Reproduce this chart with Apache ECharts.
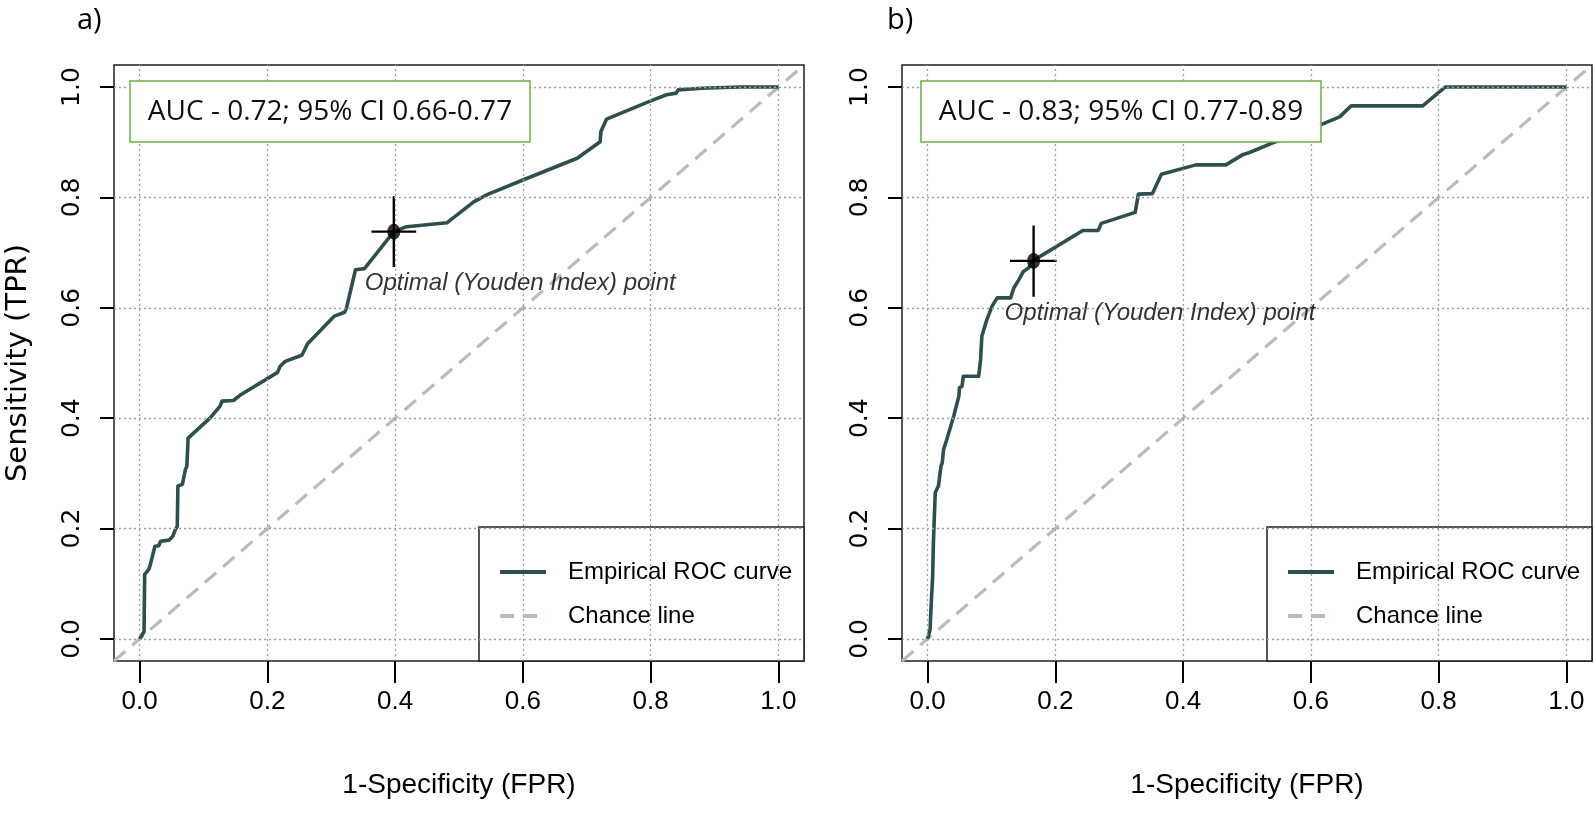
<!DOCTYPE html>
<html>
<head>
<meta charset="utf-8">
<script src="https://cdn.jsdelivr.net/npm/echarts@6/dist/echarts.min.js"></script>
<style>
  html, body { margin: 0; padding: 0; background: #ffffff; }
  #chart { width: 1594px; height: 816px; }
</style>
</head>
<body>
<div id="chart"></div>
<script>
// ---------- data ----------
const TICK_VALUES = [0, 0.2, 0.4, 0.6, 0.8, 1.0];
const TICK_MIN = 0, TICK_MAX = 1, TICK_STEP = 0.2;
const PANEL_LABELS = ['a)', 'b)'];
const AUC_TEXT = ['AUC - 0.72; 95% CI 0.66-0.77', 'AUC - 0.83; 95% CI 0.77-0.89'];
const SERIES_NAMES = ['Empirical ROC curve', 'Chance line'];
const X_TITLE = '1-Specificity (FPR)';
const Y_TITLE = 'Sensitivity (TPR)';
const POINT_LABEL = 'Optimal (Youden Index) point';

// chance line (abline across the full plot region)
const CHANCE_FPR = [-0.04, 1.04];
const CHANCE_TPR = [-0.04, 1.04];

// panel a) empirical ROC
const ROC_A_FPR = [0, 0.007, 0.008, 0.0145, 0.017, 0.024, 0.030, 0.033, 0.046, 0.052,
  0.056, 0.059, 0.060, 0.067, 0.072, 0.074, 0.076, 0.111, 0.126, 0.129,
  0.147, 0.159, 0.202, 0.216, 0.220, 0.228, 0.254, 0.263, 0.305, 0.321,
  0.324, 0.338, 0.352, 0.398, 0.418, 0.481, 0.523, 0.544, 0.601, 0.685,
  0.721, 0.722, 0.731, 0.802, 0.825, 0.840, 0.843, 0.880, 0.940, 1.0];
const ROC_A_TPR = [0, 0.013, 0.117, 0.126, 0.135, 0.168, 0.169, 0.177, 0.179, 0.186,
  0.198, 0.204, 0.277, 0.280, 0.308, 0.313, 0.364, 0.401, 0.422, 0.431,
  0.432, 0.443, 0.473, 0.483, 0.494, 0.503, 0.514, 0.535, 0.585, 0.592,
  0.600, 0.669, 0.671, 0.738, 0.747, 0.754, 0.792, 0.805, 0.832, 0.871,
  0.901, 0.919, 0.942, 0.976, 0.986, 0.989, 0.995, 0.998, 1.0, 1.0];

// panel b) empirical ROC
const ROC_B_FPR = [0, 0.004, 0.005, 0.008, 0.009, 0.010, 0.012, 0.017, 0.021, 0.023,
  0.025, 0.030, 0.041, 0.049, 0.050, 0.054, 0.056, 0.080, 0.083, 0.085,
  0.093, 0.101, 0.109, 0.130, 0.135, 0.143, 0.150, 0.158, 0.166, 0.243,
  0.267, 0.272, 0.325, 0.330, 0.352, 0.366, 0.420, 0.467, 0.494, 0.503,
  0.545, 0.580, 0.612, 0.645, 0.663, 0.775, 0.810, 1.0];
const ROC_B_TPR = [0, 0.017, 0.047, 0.114, 0.168, 0.201, 0.265, 0.277, 0.313, 0.319,
  0.343, 0.361, 0.404, 0.440, 0.455, 0.458, 0.476, 0.476, 0.506, 0.549,
  0.579, 0.603, 0.618, 0.618, 0.636, 0.651, 0.666, 0.672, 0.686, 0.740,
  0.740, 0.753, 0.773, 0.806, 0.807, 0.842, 0.859, 0.859, 0.878, 0.881,
  0.901, 0.915, 0.930, 0.946, 0.966, 0.966, 1.0, 1.0];

// optimal (Youden) points with their confidence ranges
const OPT_FPR = [0.398, 0.166];
const OPT_TPR = [0.738, 0.685];
const OPT_FPR_LO = [0.363, 0.129];
const OPT_FPR_HI = [0.433, 0.202];
const OPT_TPR_LO = [0.674, 0.620];
const OPT_TPR_HI = [0.802, 0.749];

// ---------- styling / layout ----------
const SANS = "'Liberation Sans', Arial, sans-serif";
const WIDE = "'DejaVu Sans', Verdana, sans-serif";
const BOXFONT = "'Open Sans', 'Noto Sans', sans-serif";
const CURVE_COLOR = '#2F4F4F';
const CHANCE_COLOR = '#BBBBBB';
const FRAME = '#1e1e1e';
const AX_MIN = -0.04, AX_MAX = 1.04;          // R-style 4% axis extension
const GRID_LEFT = [114, 902];
const GRID_TOP = 65, GRID_W = 690, GRID_H = 596;
const X_TICK_PX = 22, Y_TICK_PX = 14;
// inner rectangle spanning exactly the 0..1 range (used for the tick axes)
const SPAN = AX_MAX - AX_MIN;
const IN_DX = (TICK_MIN - AX_MIN) / SPAN * GRID_W;
const IN_DY = (AX_MAX - TICK_MAX) / SPAN * GRID_H;
const IN_W = (TICK_MAX - TICK_MIN) / SPAN * GRID_W;
const IN_H = (TICK_MAX - TICK_MIN) / SPAN * GRID_H;
// tick lengths expressed in axis units of the data grid
const X_TICK_LEN = X_TICK_PX / GRID_H * SPAN;
const Y_TICK_LEN = Y_TICK_PX / GRID_W * SPAN;

const rocFpr = [ROC_A_FPR, ROC_B_FPR];
const rocTpr = [ROC_A_TPR, ROC_B_TPR];
const zip = (a, b) => a.map((v, i) => [v, b[i]]);
const fmt = v => Number(v).toFixed(1);

const grids = [], xAxes = [], yAxes = [], series = [], legends = [], titles = [], graphics = [];

for (let p = 0; p < 2; p++) {
  const gl = GRID_LEFT[p];
  const gData = 2 * p, gTick = 2 * p + 1;

  // data grid (full plot region, framed)
  grids.push({ left: gl, top: GRID_TOP, width: GRID_W, height: GRID_H,
    show: true, borderColor: FRAME, borderWidth: 1.5 });
  // label grid (0..1 region), axes pushed out to the frame with offset
  grids.push({ left: gl + IN_DX, top: GRID_TOP + IN_DY, width: IN_W, height: IN_H, show: false });

  xAxes.push({
    type: 'value', gridIndex: gData, min: AX_MIN, max: AX_MAX,
    axisLine: { show: false }, axisTick: { show: false }, axisLabel: { show: false }, splitLine: { show: false }
  });
  yAxes.push({
    type: 'value', gridIndex: gData, min: AX_MIN, max: AX_MAX,
    axisLine: { show: false }, axisTick: { show: false }, axisLabel: { show: false }, splitLine: { show: false }
  });

  xAxes.push({
    type: 'value', gridIndex: gTick, min: TICK_MIN, max: TICK_MAX, interval: TICK_STEP,
    offset: IN_DY,
    name: X_TITLE, nameLocation: 'middle', nameGap: 110,
    nameTextStyle: { fontFamily: SANS, fontSize: 28, color: '#000' },
    axisLine: { show: false, onZero: false },
    axisTick: { show: true, length: X_TICK_PX, lineStyle: { color: '#000', width: 2 } },
    axisLabel: { show: true, margin: 28, fontFamily: SANS, fontSize: 26, color: '#000', formatter: fmt },
    splitLine: { show: false }
  });
  yAxes.push({
    type: 'value', gridIndex: gTick, min: TICK_MIN, max: TICK_MAX, interval: TICK_STEP,
    offset: IN_DX,
    name: p === 0 ? Y_TITLE : '', nameLocation: 'middle', nameGap: 81, nameRotate: 90,
    nameTextStyle: { fontFamily: WIDE, fontSize: 29, color: '#000' },
    axisLine: { show: false, onZero: false },
    axisTick: { show: true, length: Y_TICK_PX, lineStyle: { color: '#000', width: 2 } },
    axisLabel: { show: true, rotate: 90, margin: 29, fontFamily: WIDE, fontSize: 25, color: '#000', formatter: fmt },
    splitLine: { show: false }
  });

  // keep the label grid populated (invisible)
  series.push({ type: 'line', name: 'lbl' + p, xAxisIndex: gTick, yAxisIndex: gTick, silent: true,
    data: [[TICK_MIN, TICK_MIN], [TICK_MAX, TICK_MAX]], symbol: 'none', lineStyle: { opacity: 0 }, z: 0 });

  const ax = { xAxisIndex: gData, yAxisIndex: gData };

  // dotted reference grid drawn through the axes
  series.push(Object.assign({
    type: 'line', name: 'grid' + p, data: [], silent: true, z: 1,
    markLine: {
      silent: true, symbol: ['none', 'none'], animation: false,
      label: { show: false },
      lineStyle: { color: '#a0a0a0', type: [2, 3], width: 1.3 },
      emphasis: { disabled: true },
      data: TICK_VALUES.map(v => ({ xAxis: v })).concat(TICK_VALUES.map(v => ({ yAxis: v })))
    }
  }, ax));

  // outward tick marks below / left of the frame (drawn through the data scales)
  series.push(Object.assign({
    type: 'line', name: 'ticks' + p, data: [], silent: true, z: 1, clip: false,
    markLine: {
      silent: true, symbol: ['none', 'none'], animation: false,
      label: { show: false },
      lineStyle: { color: '#000', type: 'solid', width: 2 },
      emphasis: { disabled: true },
      data: TICK_VALUES.map(v => [{ coord: [v, AX_MIN] }, { coord: [v, AX_MIN - X_TICK_LEN] }])
        .concat(TICK_VALUES.map(v => [{ coord: [AX_MIN, v] }, { coord: [AX_MIN - Y_TICK_LEN, v] }]))
    }
  }, ax));

  series.push(Object.assign({
    type: 'line', name: SERIES_NAMES[1], z: 2,
    data: zip(CHANCE_FPR, CHANCE_TPR), symbol: 'none', silent: true,
    itemStyle: { color: CHANCE_COLOR },
    lineStyle: { color: CHANCE_COLOR, width: 3.2, type: [15, 9] }
  }, ax));

  series.push(Object.assign({
    type: 'line', name: SERIES_NAMES[0], z: 3,
    data: zip(rocFpr[p], rocTpr[p]), symbol: 'none', silent: true,
    itemStyle: { color: CURVE_COLOR },
    lineStyle: { color: CURVE_COLOR, width: 3.6, join: 'round' }
  }, ax));

  series.push(Object.assign({
    type: 'line', name: 'ci-h' + p, z: 4, silent: true,
    data: [[OPT_FPR_LO[p], OPT_TPR[p]], [OPT_FPR_HI[p], OPT_TPR[p]]], symbol: 'none',
    lineStyle: { color: '#000', width: 2.4 }
  }, ax));
  series.push(Object.assign({
    type: 'line', name: 'ci-v' + p, z: 4, silent: true,
    data: [[OPT_FPR[p], OPT_TPR_LO[p]], [OPT_FPR[p], OPT_TPR_HI[p]]], symbol: 'none',
    lineStyle: { color: '#000', width: 2.4 }
  }, ax));

  series.push(Object.assign({
    type: 'scatter', name: 'opt' + p, z: 5, silent: true,
    data: [[OPT_FPR[p], OPT_TPR[p]]], symbol: 'circle', symbolSize: [13, 16],
    itemStyle: { color: '#000' },
    label: { show: true, formatter: POINT_LABEL, position: 'inside', align: 'left', verticalAlign: 'middle',
      offset: [-29, 52], fontFamily: SANS, fontStyle: 'italic', fontSize: 24, color: '#000' }
  }, ax));

  legends.push({
    data: [
      { name: SERIES_NAMES[0], icon: 'path://M0,0H46V4H0Z', itemStyle: { color: CURVE_COLOR, borderWidth: 0 } },
      { name: SERIES_NAMES[1], icon: 'path://M0,0H14V4H0Z M23,0H37V4H23Z M45.9,0H46V4H45.9Z', itemStyle: { color: CHANCE_COLOR, borderWidth: 0 } }
    ],
    orient: 'vertical', left: gl + 386, top: 550,
    itemWidth: 46, itemHeight: 4, itemGap: 0, padding: 0, selectedMode: false, z: 6,
    textStyle: { fontFamily: SANS, fontSize: 24, color: '#000', lineHeight: 44, padding: [0, 0, 0, 17] }
  });

  titles.push({ text: PANEL_LABELS[p], left: p === 0 ? 77 : 887, top: 6, padding: 0,
    textStyle: { fontFamily: BOXFONT, fontSize: 29, fontWeight: 'normal', color: '#000' } });

  // legend box
  graphics.push({ type: 'rect', z: 4, silent: true,
    shape: { x: gl + 365, y: 527, width: GRID_W - 365, height: GRID_TOP + GRID_H - 527 },
    style: { fill: '#ffffff', stroke: FRAME, lineWidth: 1.5 } });
  // AUC annotation box
  graphics.push({ type: 'rect', z: 10, silent: true,
    shape: { x: gl + 16 + p * 3, y: 81, width: 400, height: 61 },
    style: { fill: '#ffffff', stroke: '#70AD47', lineWidth: 1.5 } });
  graphics.push({ type: 'text', z: 11, silent: true,
    x: gl + 216 + p * 3, y: 112,
    style: { text: AUC_TEXT[p], fontFamily: BOXFONT, fontSize: 28, fill: '#111',
      align: 'center', verticalAlign: 'middle' } });
}

const chart = echarts.init(document.getElementById('chart'), null, { renderer: 'canvas', width: 1594, height: 816 });
chart.setOption({
  animation: false,
  backgroundColor: '#ffffff',
  title: titles,
  grid: grids,
  xAxis: xAxes,
  yAxis: yAxes,
  legend: legends,
  series: series,
  graphic: { elements: graphics }
});
</script>
</body>
</html>
